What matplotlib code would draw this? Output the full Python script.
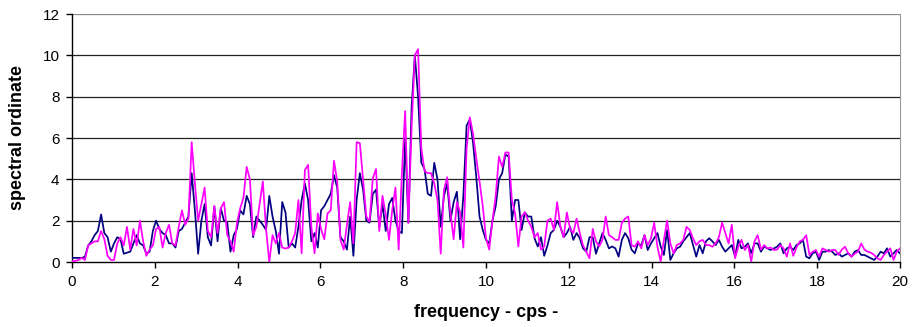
import numpy as np
import matplotlib
matplotlib.use("Agg")
import matplotlib.pyplot as plt

plt.rcParams['font.family'] = ['Liberation Sans', 'DejaVu Sans']

# spectral ordinates, 257 values from 0 to 20 cps
navy_vals = [
    0.2, 0.2, 0.2, 0.2, 0.25, 0.8, 1.0, 1.3, 1.5, 2.3, 1.4, 1.2, 0.5, 0.9, 1.2, 1.1,
    0.4, 0.45, 0.5, 0.9, 1.3, 0.9, 0.8, 0.4, 0.5, 1.5, 2.0, 1.6, 1.4, 1.3, 0.9, 0.9,
    0.7, 1.5, 1.6, 1.9, 2.2, 4.3, 2.5, 0.4, 2.0, 2.8, 1.2, 0.8, 2.7, 1.0, 2.6, 2.0,
    1.9, 0.5, 1.3, 1.6, 2.5, 2.3, 3.2, 2.8, 1.2, 2.2, 2.0, 1.8, 1.55, 3.2, 2.2, 1.5,
    0.4, 2.9, 2.4, 0.7, 0.9, 0.7, 1.7, 3.0, 3.8, 3.0, 1.0, 1.4, 0.7, 2.5, 2.7, 3.0,
    3.3, 4.2, 3.6, 1.2, 1.0, 0.6, 2.2, 0.3, 3.0, 4.3, 3.5, 2.0, 1.9, 3.3, 3.5, 1.7,
    2.8, 1.5, 2.8, 3.1, 2.0, 1.5, 1.4, 6.0, 1.9, 7.5, 10.0, 8.0, 4.8, 4.5, 3.3, 3.2,
    4.8, 4.0, 1.7, 3.2, 3.8, 2.0, 2.9, 3.4, 1.1, 3.2, 6.6, 6.9, 5.75, 4.1, 2.2, 1.55,
    1.07, 0.9, 2.0, 2.7, 4.0, 4.3, 5.2, 5.1, 2.0, 3.0, 3.0, 1.55, 2.4, 2.2, 2.2, 1.15,
    0.75, 1.2, 0.3, 0.8, 1.4, 1.55, 2.0, 1.7, 1.2, 1.4, 1.7, 1.07, 1.4, 1.15, 0.66, 0.5,
    1.2, 1.2, 0.4, 0.9, 1.4, 1.07, 0.66, 0.75, 0.66, 0.26, 1.07, 1.4, 1.15, 0.6, 0.42, 0.9,
    0.8, 1.3, 0.58, 0.9, 1.15, 1.4, 0.75, 0.34, 1.55, 0.1, 0.42, 0.66, 0.74, 1.0, 1.2, 1.4,
    0.82, 0.26, 0.82, 0.42, 1.0, 1.15, 1.0, 0.82, 1.07, 0.74, 0.5, 0.66, 0.82, 0.26, 1.07, 0.66,
    0.74, 0.9, 0.42, 0.9, 0.9, 0.5, 0.74, 0.66, 0.58, 0.66, 0.74, 0.9, 0.42, 0.66, 0.74, 0.58,
    0.82, 0.9, 1.07, 0.26, 0.18, 0.42, 0.5, 0.1, 0.5, 0.5, 0.58, 0.5, 0.34, 0.42, 0.26, 0.34,
    0.42, 0.26, 0.5, 0.58, 0.34, 0.34, 0.26, 0.18, 0.1, 0.26, 0.5, 0.42, 0.66, 0.26, 0.42, 0.58,
    0.42,
]

magenta_vals = [
    0.05, 0.05, 0.1, 0.2, 0.1, 0.8, 0.9, 1.0, 1.0, 1.5, 1.1, 0.3, 0.1, 0.1, 0.9, 1.2,
    0.8, 1.7, 0.6, 1.6, 0.8, 2.0, 1.0, 0.3, 0.6, 0.8, 1.6, 1.7, 0.7, 1.4, 1.8, 0.9,
    0.8, 1.7, 2.5, 1.8, 2.1, 5.8, 3.8, 2.0, 2.8, 3.6, 1.5, 1.2, 2.7, 1.4, 2.6, 2.9,
    1.3, 1.0, 0.5, 1.9, 2.6, 3.1, 4.6, 4.0, 1.3, 1.7, 2.8, 3.9, 1.6, 0.0, 1.3, 0.9,
    1.4, 0.7, 0.65, 0.7, 1.0, 1.4, 3.0, 0.42, 4.45, 4.7, 1.7, 0.42, 2.35, 1.6, 1.1, 2.35,
    2.5, 4.9, 3.9, 1.07, 0.6, 1.8, 2.9, 0.9, 5.8, 5.75, 4.0, 2.2, 1.95, 4.05, 4.5, 1.5,
    3.2, 2.3, 1.07, 2.5, 3.6, 0.6, 4.3, 7.3, 1.9, 6.5, 10.0, 10.3, 5.5, 4.4, 4.3, 4.3,
    3.8, 3.0, 0.4, 3.5, 4.1, 2.4, 1.1, 2.9, 2.4, 0.7, 5.5, 7.0, 6.2, 5.0, 3.9, 2.7,
    1.15, 0.6, 2.0, 3.2, 5.1, 4.6, 5.3, 5.3, 3.0, 2.35, 0.75, 2.2, 2.4, 2.0, 1.7, 1.2,
    1.4, 0.6, 0.75, 2.0, 2.1, 1.55, 2.9, 1.7, 1.2, 2.4, 1.6, 1.4, 2.1, 1.4, 0.8, 0.5,
    0.18, 1.6, 1.0, 0.75, 1.07, 2.2, 1.3, 1.2, 1.07, 1.07, 1.9, 2.1, 2.2, 0.82, 0.74, 1.0,
    0.66, 1.3, 0.82, 1.15, 1.9, 0.74, 0.02, 1.07, 2.0, 0.9, 0.42, 0.82, 0.9, 1.07, 1.7, 1.55,
    1.15, 0.82, 1.0, 1.07, 0.82, 0.82, 0.74, 0.9, 1.2, 1.9, 1.4, 0.9, 1.8, 0.18, 0.74, 1.07,
    0.58, 0.82, 0.02, 1.0, 1.3, 0.6, 0.82, 0.66, 0.7, 0.58, 0.6, 0.82, 0.66, 0.26, 0.9, 0.3,
    0.7, 1.0, 1.07, 1.3, 0.34, 0.5, 0.58, 0.26, 0.66, 0.58, 0.5, 0.58, 0.58, 0.34, 0.6, 0.74,
    0.42, 0.26, 0.4, 0.5, 0.9, 0.6, 0.5, 0.45, 0.34, 0.18, 0.1, 0.34, 0.5, 0.66, 0.1, 0.5,
    0.66,
]

freq = np.linspace(0, 20, len(navy_vals))

xticks = list(range(0, 21, 2))
yticks = list(range(0, 13, 2))

fig = plt.figure(figsize=(9.15, 3.27), dpi=100)
ax = fig.add_axes([72 / 915, 1 - 262 / 327, (900 - 72) / 915, (262 - 14) / 327])

# horizontal gridlines like the spreadsheet chart
for y in yticks[1:]:
    ax.axhline(y, color='#222222' if y < 12 else '#888888', lw=0.9, zorder=1)

ax.plot(freq, navy_vals, color='#000080', lw=1.25, zorder=3)
ax.plot(freq, magenta_vals, color='#FF00FF', lw=1.25, zorder=4)

ax.set_xlim(0, 20)
ax.set_ylim(0, 12)
ax.set_xticks(xticks)
ax.set_yticks(yticks)
ax.tick_params(direction='out', length=4, width=1, labelsize=11, pad=5)

ax.spines['top'].set_visible(False)
ax.spines['right'].set_color('#999999')
ax.spines['left'].set_linewidth(1)
ax.spines['bottom'].set_linewidth(1)

ax.set_xlabel('frequency - cps -', fontsize=13, fontweight='bold', labelpad=11)
ax.set_ylabel('spectral ordinate', fontsize=13, fontweight='bold', labelpad=12)

fig.savefig('out.png', dpi=100)
